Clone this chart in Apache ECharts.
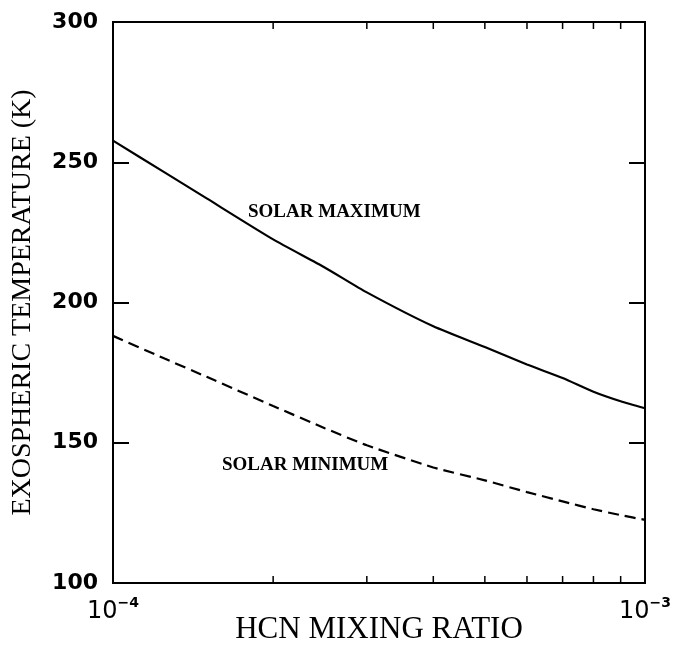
<!DOCTYPE html>
<html>
<head>
<meta charset="utf-8">
<script src="https://cdn.jsdelivr.net/npm/echarts@6/dist/echarts.min.js"></script>
<style>
  html, body { margin: 0; padding: 0; background: #fff; }
  #main { width: 675px; height: 645px; }
</style>
</head>
<body>
<div id="main"></div>
<script>
// HCN mixing ratio (x) vs exospheric temperature in K (y)
var mixingRatio = [1e-4, 1.25e-4, 1.5e-4, 2e-4, 2.5e-4, 3e-4, 4e-4, 5e-4, 6e-4, 7e-4, 8e-4, 9e-4, 1e-3];
var solarMax = [257.7, 246.4, 237.1, 222.5, 212.5, 203.6, 191.5, 184.1, 177.9, 173.1, 168.2, 164.8, 162.3];
var solarMin = [188.1, 180.0, 173.5, 163.1, 155.2, 149.1, 141.2, 136.6, 132.4, 129.1, 126.3, 124.2, 122.5];
var minorTicks = [2e-4, 3e-4, 4e-4, 5e-4, 6e-4, 7e-4, 8e-4, 9e-4];
var yTicks = [100, 150, 200, 250, 300];

window.onload = function() {
    var chart = echarts.init(document.getElementById('main'));

    function pairs(ys) {
        return mixingRatio.map(function(x, i) { return [x, ys[i]]; });
    }

    var yMin = yTicks[0], yMax = yTicks[yTicks.length - 1];

    var option = {
        backgroundColor: '#fff',
        animation: false,
        grid: {
            left: 113, right: 30, top: 22, bottom: 62,
            outerBoundsMode: 'none',
            containLabel: false,
            show: true, borderColor: '#000', borderWidth: 2
        },
        xAxis: {
            type: 'log',
            logBase: 10,
            min: 1e-4,
            max: 1e-3,
            name: 'HCN MIXING RATIO',
            nameLocation: 'middle',
            nameGap: 31,
            nameMoveOverlap: false,
            nameTextStyle: { fontFamily: 'Liberation Serif', fontSize: 31, color: '#000' },
            axisLine: { show: false },
            axisTick: { show: false },
            splitLine: { show: false },
            axisLabel: {
                margin: 13,
                formatter: function(v) {
                    return '{b|10}{s|\u2212' + Math.abs(Math.round(Math.log10(v))) + '}';
                },
                rich: {
                    b: { fontFamily: 'DejaVu Sans', fontSize: 24, color: '#000', lineHeight: 28, verticalAlign: 'bottom' },
                    s: { fontFamily: 'DejaVu Sans', fontSize: 14, fontWeight: 'bold', color: '#000', lineHeight: 14, verticalAlign: 'top' }
                }
            }
        },
        yAxis: [{
            type: 'value',
            min: yMin,
            max: yMax,
            interval: 50,
            name: 'EXOSPHERIC TEMPERATURE (K)',
            nameLocation: 'middle',
            nameGap: 76,
            nameMoveOverlap: false,
            nameTextStyle: { fontFamily: 'Liberation Serif', fontSize: 28, color: '#000' },
            axisLine: { show: false },
            axisTick: { show: true, inside: true, length: 16, lineStyle: { color: '#000', width: 2 } },
            splitLine: { show: false },
            axisLabel: { margin: 15, fontFamily: 'DejaVu Sans', fontWeight: 'bold', fontSize: 22, color: '#000' }
        }, {
            type: 'value',
            position: 'right',
            min: yMin,
            max: yMax,
            interval: 50,
            axisLine: { show: false },
            axisTick: { show: true, inside: true, length: 16, lineStyle: { color: '#000', width: 2 } },
            splitLine: { show: false },
            axisLabel: { show: false }
        }],
        graphic: [{
            type: 'text', x: 248, y: 212,
            style: { text: 'SOLAR MAXIMUM', font: 'bold 19px "Liberation Serif"', fill: '#000', verticalAlign: 'middle' }
        }, {
            type: 'text', x: 222, y: 465,
            style: { text: 'SOLAR MINIMUM', font: 'bold 19px "Liberation Serif"', fill: '#000', verticalAlign: 'middle' }
        }],
        series: [{
            name: 'Solar maximum',
            type: 'line',
            data: pairs(solarMax),
            showSymbol: false,
            smooth: 0.2,
            lineStyle: { color: '#000', width: 2.2 }
        }, {
            name: 'Solar minimum',
            type: 'line',
            data: pairs(solarMin),
            showSymbol: false,
            smooth: 0.2,
            lineStyle: { color: '#000', width: 2.2, type: [11, 6] }
        }, {
            // minor log ticks on bottom and top edges
            type: 'custom',
            data: minorTicks.map(function(v) { return [v]; }),
            silent: true,
            renderItem: function(params, api) {
                var b = api.coord([api.value(0), yMin]);
                var t = api.coord([api.value(0), yMax]);
                var st = { stroke: '#000', lineWidth: 1.5 };
                return {
                    type: 'group',
                    children: [
                        { type: 'line', shape: { x1: b[0], y1: b[1], x2: b[0], y2: b[1] - 7 }, style: st },
                        { type: 'line', shape: { x1: t[0], y1: t[1], x2: t[0], y2: t[1] + 7 }, style: st }
                    ]
                };
            }
        }]
    };

    chart.setOption(option);
};
</script>
</body>
</html>
